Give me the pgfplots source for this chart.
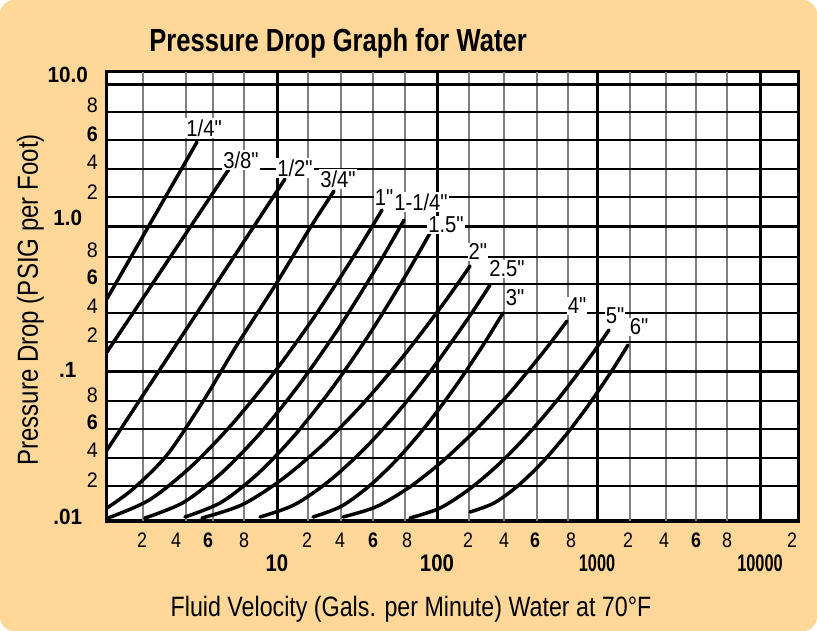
\documentclass[border=0pt]{standalone}
\usepackage{fontspec}
\setmainfont{Liberation Sans}
\newfontfamily\titlefont{Liberation Sans}[FakeStretch=0.8]
\newfontfamily\labfont{Liberation Sans}[FakeStretch=0.83]
\newfontfamily\xtfont{Liberation Sans}[FakeStretch=0.85]
\newfontfamily\xtcfont{Liberation Sans}[FakeStretch=0.68]
\newfontfamily\ytfont{Liberation Sans}[FakeStretch=0.94]
\newfontfamily\cfont{Liberation Sans}[FakeStretch=0.88,Ligatures=TeXOff]
\usepackage{pgfplots}
\pgfplotsset{compat=1.18}
\definecolor{bg}{RGB}{254,215,153}
\definecolor{gridgray}{RGB}{128,128,128}
% x: decade position (10 -> 1, 100 -> 2, 1000 -> 3, 10000 -> 4) on the chart's own (non-logarithmic) grid
% y: decade position (1.0 -> 0, .1 -> -1, .01 -> -2, 10.0 -> ~1)
\begin{document}
\begin{tikzpicture}[pipe/.style={black, line width=3.5bp, line cap=round, mark=none}]
\fill[bg, rounded corners=14bp] (-107bp,-110bp) rectangle (710bp,521bp);
\begin{axis}[
  at={(0bp,0bp)}, anchor=south west,
  scale only axis, width=691bp, height=449bp,
  xmin=-0.0625, xmax=4.25625, ymin=-2.0276, ymax=1.0690,
  axis background/.style={fill=white},
  axis line style={line width=3bp, black},
  major tick length=0pt, minor tick length=0pt,
  xtick={0.15625,0.36875,0.56875,0.79375,1.1875,1.39375,1.6,1.8125,2.19375,2.41875,2.6125,2.8375,3.19375,3.41875,3.61875,3.8125,4.21875},
  xticklabels={2,4,\textbf{6},8,2,4,\textbf{6},8,2,4,\textbf{6},8,2,4,\textbf{6},8,2},
  xticklabel style={font=\xtfont\fontsize{21bp}{21bp}\selectfont, anchor=center, yshift=-19bp},
  extra x ticks={1,2,3,4.01875},
  extra x tick labels={{\fontsize{24bp}{24bp}\selectfont\bfseries 10},{\fontsize{24bp}{24bp}\selectfont\bfseries 100},{\xtcfont\fontsize{24bp}{24bp}\selectfont\bfseries 1000},{\xtcfont\fontsize{24bp}{24bp}\selectfont\bfseries 10000}},
  extra x tick style={xticklabel style={yshift=-23bp}},
  ytick={1.0483,0.8414,0.6414,0.4483,0.2414,0.0621,-0.1586,-0.3448,-0.5448,-0.7448,-0.9862,-1.1586,-1.3448,-1.5379,-1.7448,-2.0},
  yticklabels={\makebox[60bp][c]{\fontsize{22bp}{22bp}\selectfont\textbf{10.0}},8,\textbf{6},4,2,\makebox[60bp][c]{\fontsize{22bp}{22bp}\selectfont\textbf{1.0}},8,\textbf{6},4,2,\makebox[60bp][c]{\fontsize{22bp}{22bp}\selectfont\textbf{.1}},8,\textbf{6},4,2,\makebox[60bp][c]{\fontsize{22bp}{22bp}\selectfont\textbf{.01}}},
  yticklabel style={font=\ytfont\fontsize{21bp}{21bp}\selectfont, anchor=east, inner sep=0pt, xshift=-9bp},
]
% grid of the chart
\pgfplotsinvokeforeach{0.1625,0.43125,0.6,0.79375,1.19375,1.4,1.6,1.8,2.2,2.41875,2.625,2.81875,3.20625,3.43125,3.61875,3.8125}{
  \draw[gridgray, line width=1.5bp] (axis cs:#1,-2.0276) -- (axis cs:#1,1.069);
}
\pgfplotsinvokeforeach{0.7931,0.6,0.4,0.2069,-0.2069,-0.3931,-0.5931,-0.7931,-1.2,-1.3931,-1.5931,-1.7862}{
  \draw[black, line width=1.2bp] (axis cs:-0.0625,#1) -- (axis cs:4.25625,#1);
}
\pgfplotsinvokeforeach{1,2,3,4.01875}{
  \draw[black, line width=3bp] (axis cs:#1,-2.0276) -- (axis cs:#1,1.069);
}
\pgfplotsinvokeforeach{0.9862,0,-1}{
  \draw[black, line width=3bp] (axis cs:-0.0625,#1) -- (axis cs:4.25625,#1);
}
% curves
% 1/4"
\addplot[pipe] coordinates {(-0.0625,-0.4948) (0.5,0.5862)};
% 3/8"
\addplot[pipe, smooth] coordinates {(-0.0625,-0.862) (0.1625,-0.490) (0.4375,-0.034) (0.7,0.4)};
% 1/2"
\addplot[pipe] coordinates {(-0.0625,-1.5379) (1.05,0.3310)};
% 3/4"
\addplot[pipe, smooth] coordinates {(-0.0625,-1.9379) (0.1,-1.8069) (0.3125,-1.5724) (0.53125,-1.2138) (0.75,-0.8138) (0.99375,-0.3931) (1.20625,-0.0069) (1.35625,0.2483)};
% 1"
\addplot[pipe, smooth] coordinates {(-0.0563,-2.0069) (0.2006,-1.8834) (0.4575,-1.6579) (0.7144,-1.3655) (0.9713,-1.0193) (1.2281,-0.6276) (1.485,-0.1931) (1.6563,0.1172)};
% 1-1/4"
\addplot[pipe, smooth] coordinates {(0.175,-2.0069) (0.4178,-1.8979) (0.6606,-1.6890) (0.9034,-1.4110) (1.1463,-1.0759) (1.3891,-0.6910) (1.6319,-0.2614) (1.7938,0.0483)};
% 1.5"
\addplot[pipe, smooth] coordinates {(0.425,-2.0) (0.6547,-1.8966) (0.8844,-1.6972) (1.1141,-1.4317) (1.3438,-1.1124) (1.5734,-0.7462) (1.8031,-0.3366) (1.9563,-0.0414)};
% 2"
\addplot[pipe, smooth] coordinates {(0.5313,-2.0069) (0.7825,-1.9152) (1.0338,-1.7379) (1.285,-1.5028) (1.5363,-1.2193) (1.7875,-0.8938) (2.0388,-0.5310) (2.2063,-0.2690)};
% 2.5"
\addplot[pipe, smooth] coordinates {(0.8938,-2.0) (1.1094,-1.9152) (1.325,-1.7524) (1.5406,-1.5359) (1.7563,-1.2752) (1.9719,-0.9759) (2.1875,-0.6414) (2.3313,-0.4)};
% 3"
\addplot[pipe, smooth] coordinates {(1.225,-2.0) (1.4031,-1.9255) (1.5813,-1.7821) (1.7594,-1.5917) (1.9375,-1.3628) (2.1156,-1.0993) (2.2938,-0.8048) (2.4125,-0.5931)};
% 4"
\addplot[pipe, smooth] coordinates {(1.4125,-2.0) (1.6225,-1.9283) (1.8325,-1.7910) (2.0425,-1.6076) (2.2525,-1.3876) (2.4625,-1.1345) (2.6725,-0.8517) (2.8125,-0.6483)};
% 5"
\addplot[pipe, smooth] coordinates {(1.8313,-2.0069) (2.0178,-1.9386) (2.2044,-1.8062) (2.3909,-1.6310) (2.5775,-1.4193) (2.7641,-1.1766) (2.9506,-0.9055) (3.075,-0.7103)};
% 6"
\addplot[pipe, smooth] coordinates {(2.2063,-1.9655) (2.3544,-1.9048) (2.5025,-1.7876) (2.6506,-1.6317) (2.7988,-1.4434) (2.9469,-1.2283) (3.095,-0.9876) (3.1938,-0.8138)};
% curve labels
\tikzset{clab/.style={fill=white, inner sep=1.2bp, font=\cfont\fontsize{23bp}{23bp}\selectfont}}
\node[clab] at (axis cs:0.544,0.683) {1/4"};
\node[clab] at (axis cs:0.775,0.462) {3/8"};
\node[clab] at (axis cs:1.1125,0.407) {1/2"};
\node[clab] at (axis cs:1.381,0.331) {3/4"};
\node[clab] at (axis cs:1.669,0.2) {1"};
\node[clab] at (axis cs:1.9,0.172) {1-1/4"};
\node[clab] at (axis cs:2.056,0.014) {1.5"};
\node[clab] at (axis cs:2.256,-0.172) {2"};
\node[clab] at (axis cs:2.4375,-0.290) {2.5"};
\node[clab] at (axis cs:2.4875,-0.490) {3"};
\node[clab] at (axis cs:2.875,-0.545) {4"};
\node[clab] at (axis cs:3.1125,-0.614) {5"};
\node[clab] at (axis cs:3.2625,-0.690) {6"};
\end{axis}
\node[font=\titlefont\bfseries\fontsize{32bp}{32bp}\selectfont, anchor=base] at (231bp,469bp) {Pressure Drop Graph for Water};
\node[font=\labfont\fontsize{28bp}{28bp}\selectfont, anchor=base] at (304bp,-95bp) {Fluid Velocity (Gals. per Minute) Water at 70°F};
\node[font=\labfont\fontsize{29bp}{29bp}\selectfont, rotate=90, anchor=base] at (-69bp,221bp) {Pressure Drop (PSIG per Foot)};
\pgfresetboundingbox
\useasboundingbox (-107bp,-110bp) rectangle (710bp,521bp);
\end{tikzpicture}
\end{document}
